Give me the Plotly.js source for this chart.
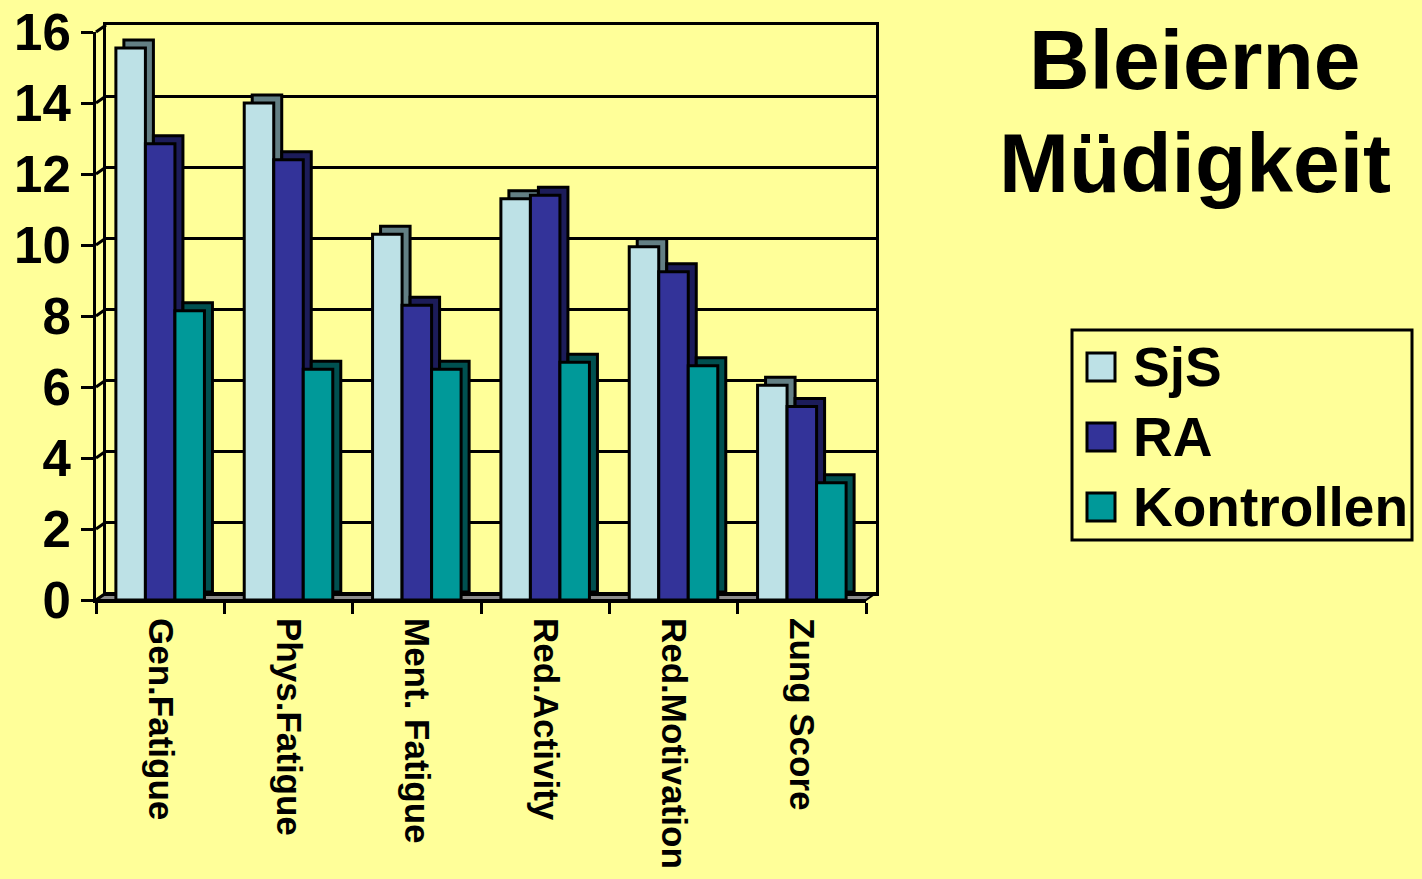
<!DOCTYPE html>
<html>
<head>
<meta charset="utf-8">
<script src="https://cdn.plot.ly/plotly-3.0.1.min.js"></script>
<style>html,body{margin:0;padding:0;background:#FFFF99;overflow:hidden;}#chart{width:1422px;height:879px;}</style>
</head>
<body>
<div id="chart"></div>
<script>
// ---- data ----
const categories = ['Gen.Fatigue', 'Phys.Fatigue', 'Ment. Fatigue', 'Red.Activity', 'Red.Motivation', 'Zung Score'];
const seriesNames = ['SjS', 'RA', 'Kontrollen'];
const sjs = [15.55, 14.0, 10.3, 11.3, 9.95, 6.05];
const ra = [12.85, 12.4, 8.3, 11.4, 9.25, 5.45];
const kontrollen = [8.15, 6.5, 6.5, 6.7, 6.6, 3.3];
const yTicks = [0, 2, 4, 6, 8, 10, 12, 14, 16];
const titleLines = ['Bleierne', 'Müdigkeit'];

// ---- styling ----
const W = 1422, H = 879;
const FONT = 'Liberation Sans, Arial, Helvetica, sans-serif';
const frontColors = ['#BDE1E6', '#333399', '#009999'];
const sideColors = ['#637F84', '#1C1C5A', '#005050'];
const values = [sjs, ra, kontrollen];

// pixel geometry of the 3D box (front face, bar depth, wall depth)
const front = {x0: 96, x1: 866, yTop: 32, yBot: 600};
const barDepth = 8, wallDX = 10, wallDY = 7;
const px = v => v / W;
const py = v => 1 - v / H;

const traces = [];
// back wall subplot carrier (draws nothing, only makes the wall grid exist)
traces.push({type: 'scatter', mode: 'none', x: categories, y: sjs, xaxis: 'x', yaxis: 'y',
  showlegend: false, hoverinfo: 'skip', name: 'wall'});
// bar side/top faces (drawn behind the front faces)
values.forEach((vals, i) => {
  traces.push({
    type: 'bar', x: categories, y: vals, xaxis: 'x2', yaxis: 'y2',
    marker: {color: sideColors[i], line: {color: '#000', width: 3}},
    showlegend: false, hoverinfo: 'skip', name: seriesNames[i] + ' depth'
  });
});
// front faces
values.forEach((vals, i) => {
  traces.push({
    type: 'bar', x: categories, y: vals, xaxis: 'x3', yaxis: 'y3',
    name: seriesNames[i],
    marker: {color: frontColors[i], line: {color: '#000', width: 3}},
    showlegend: false
  });
});

const xr = [-0.5, categories.length - 0.5];
const yr = [0, 16];
const bold = (size) => ({family: FONT, size: size, color: '#000', weight: 'bold'});

const shapes = [];
// floor
const floorPath = `M ${px(front.x0)},${py(front.yBot)} L ${px(front.x1)},${py(front.yBot)} L ${px(front.x1 + wallDX)},${py(front.yBot - wallDY)} L ${px(front.x0 + wallDX)},${py(front.yBot - wallDY)} Z`;
shapes.push({type: 'path', path: floorPath, xref: 'paper', yref: 'paper', fillcolor: '#8C8C8C', line: {color: '#000', width: 2}, layer: 'below'});
// left wall connectors
const yFront = v => front.yBot - (front.yBot - front.yTop) * v / 16;
yTicks.forEach(v => {
  shapes.push({type: 'line', xref: 'paper', yref: 'paper',
    x0: px(front.x0), y0: py(yFront(v)), x1: px(front.x0 + wallDX), y1: py(yFront(v) - wallDY),
    line: {color: '#000', width: 3}, layer: 'above'});
});
// legend box and swatches
const leg = {x0: 1072, x1: 1412, y0: 330, y1: 540, rows: [367, 437, 507], sw: 28, swX: 1087, textX: 1131};
shapes.push({type: 'rect', xref: 'paper', yref: 'paper', x0: px(leg.x0), x1: px(leg.x1), y0: py(leg.y1), y1: py(leg.y0),
  line: {color: '#000', width: 3}, fillcolor: 'rgba(0,0,0,0)'});
const annotations = [];
seriesNames.forEach((n, i) => {
  const cy = leg.rows[i];
  shapes.push({type: 'rect', xref: 'paper', yref: 'paper',
    x0: px(leg.swX), x1: px(leg.swX + leg.sw), y0: py(cy + leg.sw / 2), y1: py(cy - leg.sw / 2),
    fillcolor: frontColors[i], line: {color: '#000', width: 3}});
  annotations.push({text: n, xref: 'paper', yref: 'paper', x: px(leg.textX), y: py(cy),
    xanchor: 'left', yanchor: 'middle', showarrow: false, font: bold(55)});
});
// title
annotations.push({text: titleLines[0], xref: 'paper', yref: 'paper', x: px(1195), y: py(60),
  xanchor: 'center', yanchor: 'middle', showarrow: false, font: bold(84)});
annotations.push({text: titleLines[1], xref: 'paper', yref: 'paper', x: px(1195), y: py(163),
  xanchor: 'center', yanchor: 'middle', showarrow: false, font: bold(84)});

const layout = {
  width: W, height: H,
  margin: {l: 0, r: 0, t: 0, b: 0},
  paper_bgcolor: '#FFFF99', plot_bgcolor: 'rgba(0,0,0,0)',
  barmode: 'group', bargap: 0.31, bargroupgap: 0,
  showlegend: false,
  // back wall
  xaxis: {domain: [px(front.x0 + wallDX), px(front.x1 + wallDX)], anchor: 'y', type: 'category', range: xr,
    showticklabels: false, ticks: '', showgrid: false, zeroline: false,
    showline: true, mirror: true, linecolor: '#000', linewidth: 3, fixedrange: true},
  yaxis: {domain: [py(front.yBot - wallDY), py(front.yTop - wallDY)], anchor: 'x', range: yr,
    tickvals: yTicks, showticklabels: false, ticks: '', showgrid: true, gridcolor: '#000', gridwidth: 3,
    zeroline: false, showline: true, mirror: true, linecolor: '#000', linewidth: 3, fixedrange: true},
  // bar depth faces
  xaxis2: {domain: [px(front.x0 + barDepth), px(front.x1 + barDepth)], anchor: 'y2', type: 'category', range: xr,
    visible: false, fixedrange: true},
  yaxis2: {domain: [py(front.yBot - barDepth), py(front.yTop - barDepth)], anchor: 'x2', range: yr,
    visible: false, fixedrange: true},
  // front axes
  xaxis3: {domain: [px(front.x0), px(front.x1)], anchor: 'y3', type: 'category', range: xr,
    tickson: 'boundaries', ticks: 'outside', ticklen: 11, tickwidth: 3, tickcolor: '#000',
    showline: true, linecolor: '#000', linewidth: 3, showgrid: false, zeroline: false,
    tickangle: 90, tickfont: bold(35), ticklabelstandoff: 8, fixedrange: true},
  yaxis3: {domain: [py(front.yBot), py(front.yTop)], anchor: 'x3', range: yr,
    tickvals: yTicks, ticktext: yTicks.map(String), ticks: 'outside', ticklen: 12, tickwidth: 3, tickcolor: '#000',
    showline: true, linecolor: '#000', linewidth: 3, showgrid: false, zeroline: false,
    tickfont: bold(51), ticklabelstandoff: 0, fixedrange: true},
  shapes: shapes,
  annotations: annotations
};

Plotly.newPlot('chart', traces, layout, {displayModeBar: false, staticPlot: true});
</script>
</body>
</html>
